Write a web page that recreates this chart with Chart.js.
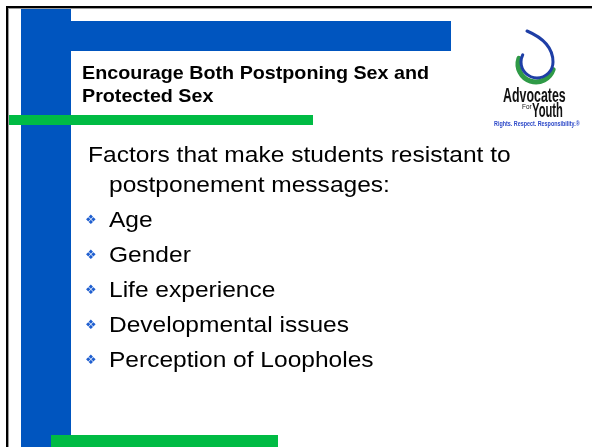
<!DOCTYPE html>
<html>
<head>
<meta charset="utf-8">
<script src="https://cdn.jsdelivr.net/npm/chart.js@4/dist/chart.umd.min.js"></script>
<style>
  html, body { margin: 0; padding: 0; background: #fff; }
  #wrap { position: relative; width: 592px; height: 447px; overflow: hidden; font-family: "Liberation Sans", Arial, sans-serif; }
  #c { position: absolute; left: 0; top: 0; }
  .t { position: absolute; white-space: nowrap; color: #000; transform-origin: 0 0; }
  .title { font-weight: bold; font-size: 18.5px; line-height: 23px; left: 82px; transform: scaleX(1.065); }
  .body { font-size: 22px; line-height: 20px; transform: scaleX(1.115); }
  .bul { position: absolute; color: #1f5fd0; font-size: 13px; line-height: 13px; font-family: "DejaVu Sans", sans-serif; }
  .logo { position: absolute; white-space: nowrap; font-weight: bold; transform-origin: 0 0; }
</style>
</head>
<body>
<div id="wrap">
  <canvas id="c" width="592" height="447"></canvas>
</div>
<script>
// ---- Slide content ----
const titleLines = ["Encourage Both Postponing Sex and", "Protected Sex"];
const introLines = ["Factors that make students resistant to", "postponement messages:"];
const bulletItems = ["Age", "Gender", "Life experience", "Developmental issues", "Perception of Loopholes"];
const logoWords = ["Advocates", "For", "Youth", "Rights. Respect. Responsibility.\u00AE"];

const wrap = document.getElementById('wrap');
function addText(cls, txt, left, top, extra) {
  const d = document.createElement('div');
  d.className = cls;
  d.textContent = txt;
  d.style.left = left + 'px';
  d.style.top = top + 'px';
  if (extra) Object.assign(d.style, extra);
  wrap.appendChild(d);
  return d;
}
// title
titleLines.forEach((s, i) => addText('t title', s, 82, 61 + i * 23));
// intro
addText('t body', introLines[0], 88, 145);
addText('t body', introLines[1], 109, 175);
// bullets
bulletItems.forEach((s, i) => {
  addText('t body', s, 109, 210 + i * 35);
  addText('bul', '\u2756', 85, 213 + i * 35);
});
// logo texts
addText('logo', logoWords[0], 503, 84, {fontSize: '20px', transform: 'scaleX(0.62)', color: '#111'});
addText('logo', logoWords[1], 522, 102, {fontSize: '8px', fontWeight: 'normal', transform: 'scaleX(0.8)', color: '#111'});
addText('logo', logoWords[2], 532, 99, {fontSize: '20px', transform: 'scaleX(0.56)', color: '#111'});
addText('logo', logoWords[3], 494, 120, {fontSize: '7px', transform: 'scaleX(0.77)', color: '#2c48c8'});

// ---- Decorative slide template drawn by a Chart.js plugin ----
const slideTemplate = {
  id: 'slideTemplate',
  beforeDraw(chart) {
    const ctx = chart.ctx;
    ctx.save();
    ctx.fillStyle = '#ffffff';
    ctx.fillRect(0, 0, chart.width, chart.height);
    // frame
    ctx.fillStyle = '#000';
    ctx.fillRect(6, 6, 586, 2);
    ctx.fillRect(6, 6, 2, 441);
    ctx.fillStyle = '#9a9a9a';
    ctx.fillRect(8, 8, 584, 1);
    ctx.fillRect(8, 8, 1, 439);
    // blue bars
    ctx.fillStyle = '#0055bf';
    ctx.fillRect(21, 9, 50, 438);
    ctx.fillRect(71, 21, 380, 30);
    // green bars
    ctx.fillStyle = '#00bb44';
    ctx.fillRect(9, 115, 304, 10);
    ctx.fillRect(51, 435, 227, 12);
    // logo drop
    ctx.lineCap = 'round';
    ctx.strokeStyle = '#2f9a47';
    ctx.lineWidth = 5;
    ctx.beginPath();
    ctx.arc(536, 64, 18, Math.PI * 0.1, Math.PI * 1.1);
    ctx.stroke();
    ctx.strokeStyle = '#1e3ea6';
    ctx.lineWidth = 3;
    ctx.beginPath();
    ctx.moveTo(527, 31);
    ctx.quadraticCurveTo(553, 42, 553, 62);
    ctx.arc(537, 62, 16, 0, Math.PI * 1.15);
    ctx.stroke();
    ctx.restore();
  }
};

new Chart(document.getElementById('c'), {
  type: 'scatter',
  data: { datasets: [] },
  options: {
    responsive: false,
    animation: false,
    events: [],
    layout: { padding: 0 },
    scales: { x: { display: false }, y: { display: false } },
    plugins: { legend: { display: false }, tooltip: { enabled: false } }
  },
  plugins: [slideTemplate]
});
</script>
</body>
</html>
